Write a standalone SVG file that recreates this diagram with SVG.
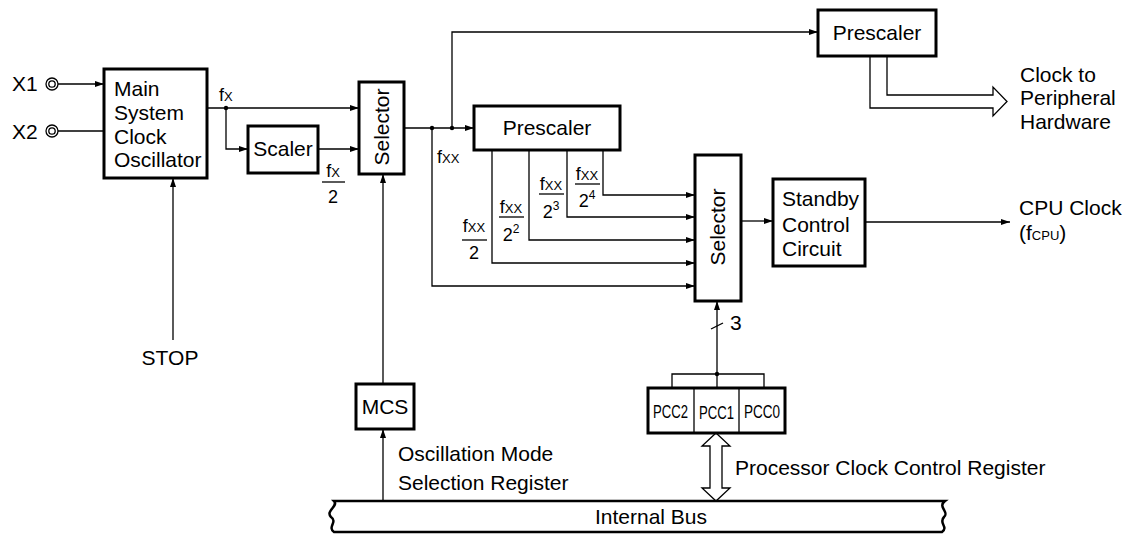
<svg xmlns="http://www.w3.org/2000/svg" width="1130" height="537" viewBox="0 0 1130 537">
<defs>
<marker id="ar" markerUnits="userSpaceOnUse" markerWidth="10" markerHeight="8" refX="9" refY="3" orient="auto">
<path d="M0,0 L9,3 L0,6 z" fill="#000"/>
</marker>
<style>
text{font-family:"Liberation Sans",Arial,sans-serif;fill:#000;font-size:21px}
.box{fill:#fff;stroke:#000;stroke-width:3}
.ln{fill:none;stroke:#000;stroke-width:1.3}
.arr{fill:none;stroke:#000;stroke-width:1.3;marker-end:url(#ar)}
.fr{font-size:18px}
.sm{font-size:13px}
.sup{font-size:12px}
.pcc{font-size:18px}
</style>
</defs>
<rect width="1130" height="537" fill="#fff"/>

<g id="connectors">
<circle cx="52" cy="84" r="6" class="ln"/><circle cx="52" cy="84" r="3.2" class="ln"/>
<circle cx="52" cy="131" r="6" class="ln"/><circle cx="52" cy="131" r="3.2" class="ln"/>
<line x1="58" y1="84" x2="104" y2="84" class="arr"/>
<line x1="58" y1="131" x2="104" y2="131" class="ln"/>
<line x1="207" y1="108" x2="359" y2="108" class="arr"/>
<polyline points="226,108 226,149 248,149" class="arr"/>
<circle cx="226" cy="108" r="2.2"/>
<line x1="318" y1="149" x2="359" y2="149" class="arr"/>
<line x1="173" y1="340" x2="173" y2="178" class="arr"/>
<line x1="383" y1="384" x2="383" y2="174" class="arr"/>
<line x1="383" y1="501" x2="383" y2="429" class="arr"/>
<line x1="404" y1="128" x2="474" y2="128" class="arr"/>
<circle cx="432" cy="128" r="2.2"/><circle cx="452" cy="128" r="2.2"/>
<polyline points="452,128 452,32 818,32" class="arr"/>
<polyline points="432,128 432,286 695,286" class="arr"/>
<polyline points="603,150 603,195 695,195" class="arr"/>
<polyline points="567,150 567,217 695,217" class="arr"/>
<polyline points="529,150 529,240 695,240" class="arr"/>
<polyline points="492,150 492,263 695,263" class="arr"/>
<line x1="741" y1="221" x2="773" y2="221" class="arr"/>
<line x1="865" y1="222" x2="1010" y2="222" class="arr"/>
<line x1="717" y1="374" x2="717" y2="301" class="arr"/>
<line x1="711" y1="329" x2="723" y2="323" class="ln"/>
<polyline points="672,388 672,374 764,374 764,388" class="ln"/>
<line x1="717" y1="374" x2="717" y2="388" class="ln"/>
<circle cx="717" cy="374" r="2.2"/>
<path d="M870,56 V108 H993 V116 L1007,101.5 L993,87 V95 H887 V56" fill="#fff" stroke="#000" stroke-width="1.3"/>
<path d="M716,433 L730,446 H722 V488 H730 L716,501 L702,488 H710 V446 H702 Z" fill="#fff" stroke="#000" stroke-width="1.3"/>
</g>

<g id="labels">
<text x="12" y="91">X1</text>
<text x="12" y="139">X2</text>
<text x="219" y="101" class="fr">f<tspan class="sm">X</tspan></text>
<text x="437" y="163" class="fr">f<tspan class="sm">XX</tspan></text>
<text x="170" y="365" text-anchor="middle">STOP</text>
<g text-anchor="middle">
<text x="333" y="177" class="fr">f<tspan class="sm">X</tspan></text>
<line x1="322" y1="182" x2="345" y2="182" class="ln"/>
<text x="333" y="203" class="fr">2</text>
<text x="474" y="232" class="fr">f<tspan class="sm">XX</tspan></text>
<line x1="462" y1="240" x2="487" y2="240" class="ln"/>
<text x="474" y="259" class="fr">2</text>
<text x="511" y="213" class="fr">f<tspan class="sm">XX</tspan></text>
<line x1="499" y1="217" x2="524" y2="217" class="ln"/>
<text x="511" y="241" class="fr">2<tspan class="sup" dy="-8">2</tspan></text>
<text x="551" y="190" class="fr">f<tspan class="sm">XX</tspan></text>
<line x1="539" y1="194" x2="564" y2="194" class="ln"/>
<text x="551" y="218" class="fr">2<tspan class="sup" dy="-8">3</tspan></text>
<text x="587" y="180" class="fr">f<tspan class="sm">XX</tspan></text>
<line x1="575" y1="184" x2="600" y2="184" class="ln"/>
<text x="587" y="207" class="fr">2<tspan class="sup" dy="-8">4</tspan></text>
</g>
<text x="730" y="330">3</text>
<text x="1020" y="82">Clock to</text>
<text x="1020" y="105">Peripheral</text>
<text x="1020" y="129">Hardware</text>
<text x="1019" y="215">CPU Clock</text>
<text x="1019" y="240">(f<tspan class="sm">CPU</tspan>)</text>
<text x="398" y="461">Oscillation Mode</text>
<text x="398" y="490">Selection Register</text>
<text x="735" y="475">Processor Clock Control Register</text>
</g>

<g id="osc">
<rect x="104" y="69" width="103" height="109" class="box"/>
<text x="114" y="96">Main</text>
<text x="114" y="120">System</text>
<text x="114" y="144">Clock</text>
<text x="114" y="167">Oscillator</text>
</g>
<g id="scaler">
<rect x="248" y="126" width="70" height="47" class="box"/>
<text x="283" y="156" text-anchor="middle">Scaler</text>
</g>
<g id="selector1">
<rect x="359" y="82" width="45" height="92" class="box"/>
<text transform="translate(389,127) rotate(-90)" text-anchor="middle">Selector</text>
</g>
<g id="prescaler1">
<rect x="818" y="10" width="118" height="46" class="box"/>
<text x="877" y="40" text-anchor="middle">Prescaler</text>
</g>
<g id="prescaler2">
<rect x="474" y="106" width="146" height="44" class="box"/>
<text x="547" y="135" text-anchor="middle">Prescaler</text>
</g>
<g id="selector2">
<rect x="695" y="155" width="46" height="146" class="box"/>
<text transform="translate(725,227) rotate(-90)" text-anchor="middle">Selector</text>
</g>
<g id="standby">
<rect x="773" y="179" width="92" height="87" class="box"/>
<text x="782" y="206">Standby</text>
<text x="782" y="232">Control</text>
<text x="782" y="256">Circuit</text>
</g>
<g id="mcs">
<rect x="356" y="384" width="58" height="45" class="box"/>
<text x="385" y="414" text-anchor="middle">MCS</text>
</g>
<g id="pcc">
<rect x="648" y="388" width="137" height="45" class="box"/>
<line x1="694" y1="388" x2="694" y2="433" class="ln"/>
<line x1="739" y1="388" x2="739" y2="433" class="ln"/>
<text x="653" y="418" class="pcc" textLength="35" lengthAdjust="spacingAndGlyphs">PCC2</text>
<text x="699" y="419" class="pcc" textLength="35" lengthAdjust="spacingAndGlyphs">PCC1</text>
<text x="744" y="418" class="pcc" textLength="36" lengthAdjust="spacingAndGlyphs">PCC0</text>
</g>
<g id="bus">
<path d="M334,501 H945 C937,507 950,512 944,517 C938,523 949,527 942,532 H334 C327,527 338,522 331,517 C325,511 339,506 334,501 Z" fill="#fff" stroke="#000" stroke-width="2.5"/>
<text x="651" y="524" text-anchor="middle" textLength="112" lengthAdjust="spacingAndGlyphs">Internal Bus</text>
</g>
</svg>
